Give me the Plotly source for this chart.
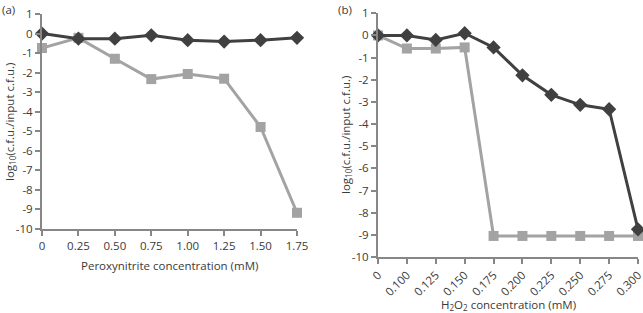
import plotly.graph_objects as go

# Panel (a)
cats_a = ["0", "0.25", "0.50", "0.75", "1.00", "1.25", "1.50", "1.75"]
a_diamond = [0.0, -0.26, -0.26, -0.09, -0.34, -0.41, -0.34, -0.22]
a_square = [-0.74, -0.22, -1.29, -2.33, -2.07, -2.31, -4.78, -9.17]

# Panel (b)
cats_b = ["0", "0.100", "0.125", "0.150", "0.175", "0.200", "0.225", "0.250", "0.275", "0.300"]
b_diamond = [0.0, 0.0, -0.2, 0.1, -0.54, -1.8, -2.68, -3.13, -3.33, -8.75]
b_square = [0.0, -0.59, -0.59, -0.54, -9.05, -9.05, -9.05, -9.05, -9.05, -9.05]

yticks = list(range(1, -11, -1))
yticktext = [str(v) for v in yticks]

DARK = "#404040"
GRAY = "#a3a3a3"
AXC = "#878787"
FONT = "Open Sans"
W, H = 643, 313

fig = go.Figure()

def add_series(x, y, color, symbol, size, xa, ya):
    fig.add_trace(go.Scatter(
        x=x, y=y, mode="lines+markers", xaxis=xa, yaxis=ya,
        line=dict(color=color, width=3),
        marker=dict(color=color, symbol=symbol, size=size),
        cliponaxis=False, showlegend=False, hoverinfo="skip"))

add_series(cats_a, a_square, GRAY, "square", 10, "x", "y")
add_series(cats_a, a_diamond, DARK, "diamond", 11, "x", "y")
add_series(cats_b, b_square, GRAY, "square", 10, "x2", "y2")
add_series(cats_b, b_diamond, DARK, "diamond", 11, "x2", "y2")

tickfont = dict(family=FONT, size=11.5, color="#3a3a3a")

common_x = dict(type="category", showgrid=False, zeroline=False, showline=True,
                linecolor=AXC, linewidth=2, ticks="outside", ticklen=5,
                tickcolor=AXC, tickwidth=1.5, tickfont=tickfont, automargin=False)
common_y = dict(range=[-10, 1], tickvals=yticks, ticktext=yticktext,
                showgrid=False, zeroline=False, showline=True, linecolor=AXC,
                linewidth=2, ticks="outside", ticklen=5, tickcolor=AXC,
                tickwidth=1.5, tickfont=tickfont, automargin=False)

fig.update_layout(
    width=W, height=H,
    margin=dict(l=0, r=0, t=0, b=0, autoexpand=False),
    paper_bgcolor="white", plot_bgcolor="white",
    font=dict(family=FONT, color="#3a3a3a"),
    xaxis=dict(common_x, domain=[42 / W, 297 / W], range=[0, len(cats_a) - 1],
               anchor="y", tickangle=0),
    yaxis=dict(common_y, domain=[1 - 229 / H, 1 - 14 / H], anchor="x"),
    xaxis2=dict(common_x, domain=[378 / W, 638 / W], range=[0, len(cats_b) - 1],
                anchor="y2", tickangle=-45),
    yaxis2=dict(common_y, domain=[1 - 257 / H, 1 - 13.3 / H], anchor="x2"),
)

ann_font = dict(family=FONT, size=11.5, color="#3a3a3a")
annotations = [
    dict(text="(a)", x=0 / W, y=1 - 0 / H, xanchor="left", yanchor="top"),
    dict(text="(b)", x=336 / W, y=1 - 0 / H, xanchor="left", yanchor="top"),
    dict(text="Peroxynitrite concentration (mM)", x=170 / W, y=1 - 265 / H,
         xanchor="center", yanchor="middle"),
    dict(text="H<sub>2</sub>O<sub>2</sub> concentration (mM)", x=508 / W,
         y=1 - 305 / H, xanchor="center", yanchor="middle"),
    dict(text="log<sub>10</sub>(c.f.u./input c.f.u.)", x=10 / W, y=1 - 122 / H,
         xanchor="center", yanchor="middle", textangle=-90),
    dict(text="log<sub>10</sub>(c.f.u./input c.f.u.)", x=346 / W, y=1 - 135 / H,
         xanchor="center", yanchor="middle", textangle=-90),
]
for a in annotations:
    fig.add_annotation(xref="paper", yref="paper", showarrow=False, font=ann_font, **a)

fig.write_html("out.html", config={"displayModeBar": False},
               post_script="document.body.style.margin='0';document.body.style.overflow='hidden';")
